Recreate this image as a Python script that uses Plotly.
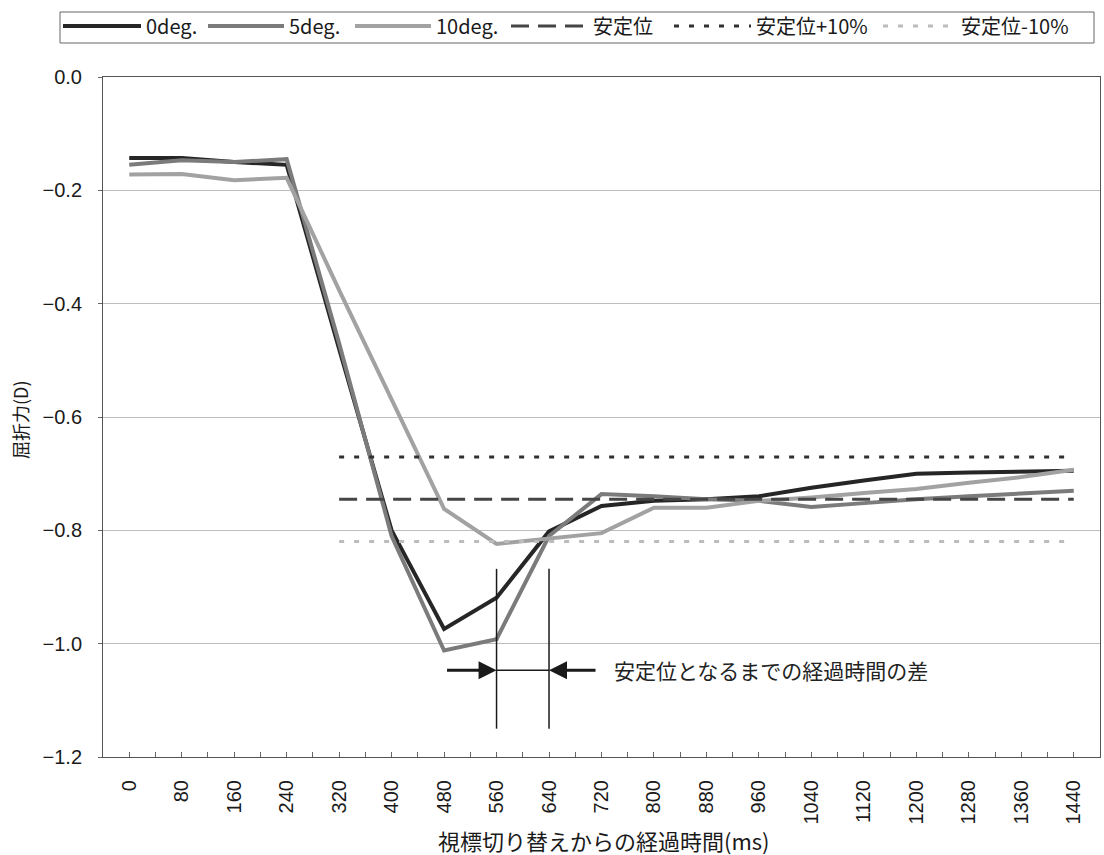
import plotly.graph_objects as go

# elapsed time after target switch (ms)
time_ms = ["0", "80", "160", "240", "320", "400", "480", "560", "640", "720",
           "800", "880", "960", "1040", "1120", "1200", "1280", "1360", "1440"]

# refraction (D) for each target angle
deg0 = [-0.143, -0.143, -0.150, -0.155, -0.480, -0.800, -0.974, -0.919, -0.802, -0.757,
        -0.748, -0.745, -0.740, -0.725, -0.712, -0.700, -0.698, -0.697, -0.695]
deg5 = [-0.155, -0.147, -0.150, -0.145, -0.470, -0.810, -1.012, -0.992, -0.810, -0.736,
        -0.740, -0.745, -0.748, -0.759, -0.752, -0.745, -0.740, -0.735, -0.730]
deg10 = [-0.172, -0.171, -0.182, -0.178, -0.376, -0.570, -0.762, -0.824, -0.815, -0.805,
         -0.760, -0.760, -0.748, -0.742, -0.734, -0.727, -0.716, -0.706, -0.693]

# stable level and the ±10% band, drawn from 320 ms onward
stable_x = time_ms[4:]
stable = -0.745
stable_plus = stable * 0.9
stable_minus = stable * 1.1

# the two instants compared by the arrow annotation
mark_a, mark_b = "560", "640"
mark_top, mark_bottom, arrow_y = -0.868, -1.150, -1.047
note_text = "安定位となるまでの経過時間の差"

JP = "Noto Sans CJK JP"
SANS = "Liberation Sans, Arial, sans-serif"
INK = "#1a1a1a"

fig = go.Figure()

# plot area in pixels: left edge, width, bottom edge, height
PLOT_L, PLOT_W, PLOT_B, PLOT_H = 103, 997, 757, 680

# each legend entry sits in its own legend box so the spacing can be set freely
legend_slots = [  # (left pixel of sample, sample width)
    (65, 78), (210, 76), (357, 76), (513, 77), (676, 77), (885, 73)
]

series = [
    ("0deg.", deg0, dict(color="#262626", width=4)),
    ("5deg.", deg5, dict(color="#7b7b7b", width=4)),
    ("10deg.", deg10, dict(color="#a2a2a2", width=4)),
]
levels = [
    ("安定位", stable, dict(color="#454545", width=3, dash="18px,9px")),
    ("安定位+10%", stable_plus, dict(color="#303030", width=3, dash="5px,10px")),
    ("安定位-10%", stable_minus, dict(color="#bcbcbc", width=3, dash="5px,10px")),
]

entries = [(n, time_ms, ys, ln) for n, ys, ln in series] + \
          [(n, stable_x, [v] * len(stable_x), ln) for n, v, ln in levels]

legend_layouts = {}
for i, (name, xs, ys, ln) in enumerate(entries):
    key = "legend" if i == 0 else f"legend{i + 1}"
    fig.add_trace(go.Scatter(x=xs, y=ys, mode="lines", name=name, line=ln,
                             legend=key))
    left, width = legend_slots[i]
    legend_layouts[key] = dict(
        orientation="h", x=(left - 7 - PLOT_L) / PLOT_W, xanchor="left",
        y=(PLOT_B - 26) / PLOT_H, yanchor="middle", borderwidth=0,
        bgcolor="rgba(0,0,0,0)", itemwidth=width,
        font=dict(family=JP, size=20, color=INK))

# frame around the legend row
fig.add_shape(type="rect", xref="paper", yref="paper",
              x0=(60 - PLOT_L) / PLOT_W, x1=(1094 - PLOT_L) / PLOT_W,
              y0=(PLOT_B - 43) / PLOT_H, y1=(PLOT_B - 12) / PLOT_H,
              line=dict(color="#666", width=1), fillcolor="rgba(0,0,0,0)")

# helper axis carrying the in-between tick marks
fig.add_trace(go.Scatter(x=[0], y=[None], xaxis="x2", showlegend=False,
                         hoverinfo="skip"))

ia, ib = time_ms.index(mark_a), time_ms.index(mark_b)
for idx in (ia, ib):
    fig.add_shape(type="line", xref="x", yref="y", x0=idx, x1=idx,
                  y0=mark_top, y1=mark_bottom, line=dict(color=INK, width=1.5))
fig.add_shape(type="line", xref="x", yref="y", x0=ia, x1=ib,
              y0=arrow_y, y1=arrow_y, line=dict(color=INK, width=1.5))

fig.add_annotation(x=ia, y=arrow_y, xref="x", yref="y", text="",
                   showarrow=True, ax=-51, ay=0, arrowhead=2, arrowsize=1.2,
                   arrowwidth=3, arrowcolor=INK, standoff=0)
fig.add_annotation(x=ib, y=arrow_y, xref="x", yref="y", text="",
                   showarrow=True, ax=48, ay=0, arrowhead=2, arrowsize=1.2,
                   arrowwidth=3, arrowcolor=INK, standoff=0)
fig.add_annotation(x=ib, y=arrow_y, xref="x", yref="y", text=note_text,
                   showarrow=False, xanchor="left", xshift=63,
                   font=dict(family=JP, size=21, color="#222"))

# axis titles placed as paper annotations
fig.add_annotation(x=0.503, y=(PLOT_B - 840) / PLOT_H, xref="paper", yref="paper",
                   text="視標切り替えからの経過時間(ms)", showarrow=False,
                   xanchor="center", yanchor="middle",
                   font=dict(family=JP, size=22, color=INK))
fig.add_annotation(x=(20 - PLOT_L) / PLOT_W, y=(PLOT_B - 420) / PLOT_H,
                   xref="paper", yref="paper", text="屈折力(D)", textangle=-90,
                   showarrow=False, xanchor="center", yanchor="middle",
                   font=dict(family=JP, size=18, color=INK))

fig.update_layout(
    width=1104, height=855,
    margin=dict(l=PLOT_L, r=1104 - PLOT_L - PLOT_W, t=PLOT_B - PLOT_H,
                b=855 - PLOT_B, autoexpand=False),
    paper_bgcolor="white", plot_bgcolor="white",
    font=dict(family=SANS, color=INK),
    showlegend=True,
    xaxis=dict(type="category", range=[-0.5, 18.5], tickangle=-90,
               ticks="inside", ticklen=5, tickcolor="#666",
               tickfont=dict(family=SANS, size=20, color=INK),
               ticklabelstandoff=14, automargin=False,
               showline=True, linecolor="#555", linewidth=1, mirror=True,
               showgrid=False),
    xaxis2=dict(overlaying="x", anchor="y", side="bottom", range=[-0.5, 18.5],
                tickvals=[i + 0.5 for i in range(-1, 19)], ticks="inside", ticklen=5,
                tickcolor="#666", showticklabels=False, showgrid=False,
                zeroline=False, showline=False, automargin=False),
    yaxis=dict(range=[-1.2, 0.0], dtick=0.2, tickformat=".1f",
               ticks="outside", ticklen=4, tickcolor="#666",
               tickfont=dict(family=SANS, size=20, color=INK),
               ticklabelstandoff=12, automargin=False,
               showline=True, linecolor="#555", linewidth=1, mirror=True,
               showgrid=True, gridcolor="#bdbdbd", gridwidth=1, zeroline=False),
    **legend_layouts,
)

fig.write_html("out.html")
